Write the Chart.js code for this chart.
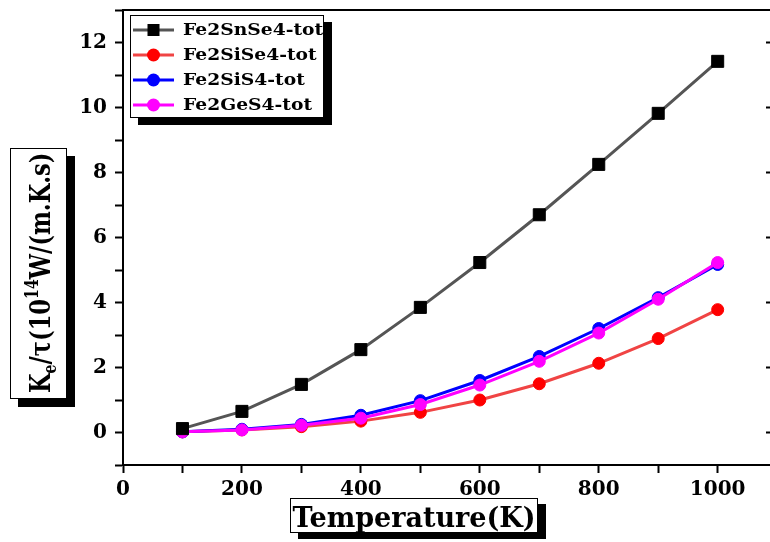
<!DOCTYPE html>
<html>
<head>
<meta charset="utf-8">
<script src="https://cdn.jsdelivr.net/npm/chart.js@4"></script>
<style>
  html, body { margin: 0; padding: 0; background: #fff; }
  #wrap { width: 770px; height: 542px; }
</style>
</head>
<body>
<div id="wrap"><canvas id="chart" width="770" height="542"></canvas></div>
<script>
// temperature (K) and electronic thermal conductivity over tau, 10^14 W/(m.K.s)
const temps = [100, 200, 300, 400, 500, 600, 700, 800, 900, 1000];
const snSe4 = [0.12, 0.65, 1.48, 2.55, 3.85, 5.23, 6.70, 8.25, 9.82, 11.42];
const siSe4 = [0.02, 0.08, 0.18, 0.35, 0.62, 1.00, 1.50, 2.13, 2.89, 3.78];
const siS4 = [0.02, 0.10, 0.25, 0.53, 0.98, 1.60, 2.34, 3.20, 4.15, 5.17];
const geS4 = [0.02, 0.08, 0.22, 0.44, 0.86, 1.46, 2.19, 3.06, 4.10, 5.23];

const seriesNames = ["Fe2SnSe4-tot", "Fe2SiSe4-tot", "Fe2SiS4-tot", "Fe2GeS4-tot"];
const xTitle = "Temperature(K)";

const SERIF = "DejaVu Serif";

const pts = (ys) => temps.map((t, i) => ({ x: t, y: ys[i] }));

// white box with a solid black drop shadow
function shadowBox(ctx, x, y, w, h, dx, dy) {
  ctx.save();
  ctx.fillStyle = "#000";
  ctx.fillRect(x + dx, y + dy, w, h);
  ctx.fillStyle = "#fff";
  ctx.fillRect(x, y, w, h);
  ctx.strokeStyle = "#000";
  ctx.lineWidth = 1;
  ctx.strokeRect(x + 0.5, y + 0.5, w - 1, h - 1);
  ctx.restore();
}

function marker(ctx, style, x, y, color) {
  ctx.fillStyle = color;
  if (style === "rect") {
    ctx.fillRect(x - 6, y - 6, 12, 12);
  } else {
    ctx.beginPath();
    ctx.arc(x, y, 6.5, 0, Math.PI * 2);
    ctx.fill();
  }
}

const decorations = {
  id: "decorations",
  afterDraw(chart) {
    const ctx = chart.ctx;
    const area = chart.chartArea;
    const yScale = chart.scales.y;
    const edge = chart.width + 4;

    // top frame line, bottom axis carried to the edge; the right frame sits
    // just past the canvas, only its inward major ticks show
    ctx.save();
    ctx.strokeStyle = "#000";
    ctx.lineWidth = 2;
    ctx.beginPath();
    ctx.moveTo(area.left, area.top);
    ctx.lineTo(edge, area.top);
    ctx.moveTo(area.right, area.bottom);
    ctx.lineTo(edge, area.bottom);
    for (let v = 0; v <= 12; v += 2) {
      const py = yScale.getPixelForValue(v);
      ctx.moveTo(edge, py);
      ctx.lineTo(edge - 8, py);
    }
    ctx.stroke();
    ctx.restore();

    // legend
    shadowBox(ctx, 130, 15, 194, 103, 8, 7);
    ctx.save();
    ctx.textBaseline = "middle";
    chart.data.datasets.forEach((ds, i) => {
      const cy = 30 + i * 25;
      ctx.strokeStyle = ds.borderColor;
      ctx.lineWidth = 3;
      ctx.beginPath();
      ctx.moveTo(133, cy);
      ctx.lineTo(174, cy);
      ctx.stroke();
      marker(ctx, ds.pointStyle, 153.5, cy, ds.pointBackgroundColor);
      ctx.save();
      ctx.translate(183, cy + 1);
      ctx.scale(1.1, 1);
      ctx.font = "bold 17px '" + SERIF + "'";
      ctx.fillStyle = "#000";
      ctx.fillText(ds.label, 0, 0);
      ctx.restore();
    });
    ctx.restore();

    // x axis title
    shadowBox(ctx, 290, 498, 248, 35, 8, 6);
    ctx.save();
    ctx.font = "bold 27px '" + SERIF + "'";
    ctx.fillStyle = "#000";
    ctx.textAlign = "center";
    ctx.textBaseline = "alphabetic";
    ctx.fillText(xTitle, 414, 527);
    ctx.restore();

    // y axis title, rotated, with subscript and superscript
    shadowBox(ctx, 10, 148, 57, 251, 8, 8);
    ctx.save();
    ctx.translate(50, 393);
    ctx.rotate(-Math.PI / 2);
    ctx.scale(0.94, 1.2);
    ctx.fillStyle = "#000";
    ctx.textBaseline = "alphabetic";
    const big = "bold 24px '" + SERIF + "'";
    const small = "bold 15px '" + SERIF + "'";
    const parts = [
      { t: "K", f: big, dy: 0 },
      { t: "e", f: small, dy: 5 },
      { t: "/\u03C4(10", f: big, dy: 0 },
      { t: "14", f: small, dy: -10 },
      { t: "W/(m.K.s)", f: big, dy: 0 }
    ];
    let px = 0;
    parts.forEach((p) => {
      ctx.font = p.f;
      ctx.fillText(p.t, px, p.dy);
      px += ctx.measureText(p.t).width;
    });
    ctx.restore();
  }
};

const tickFont = { family: SERIF, size: 20, weight: "bold" };

new Chart(document.getElementById("chart"), {
  type: "line",
  data: {
    datasets: [
      {
        label: seriesNames[0],
        data: pts(snSe4),
        borderColor: "#555555",
        pointBackgroundColor: "#000000",
        pointBorderColor: "#000000",
        pointStyle: "rect",
        pointRadius: 8.5,
        order: 0
      },
      {
        label: seriesNames[1],
        data: pts(siSe4),
        borderColor: "#f04444",
        pointBackgroundColor: "#ff0000",
        pointBorderColor: "#ff0000",
        pointStyle: "circle",
        pointRadius: 6,
        order: 3
      },
      {
        label: seriesNames[2],
        data: pts(siS4),
        borderColor: "#0000ff",
        pointBackgroundColor: "#0000ff",
        pointBorderColor: "#0000ff",
        pointStyle: "circle",
        pointRadius: 6,
        order: 2
      },
      {
        label: seriesNames[3],
        data: pts(geS4),
        borderColor: "#ff00ff",
        pointBackgroundColor: "#ff00ff",
        pointBorderColor: "#ff00ff",
        pointStyle: "circle",
        pointRadius: 6,
        order: 1
      }
    ]
  },
  options: {
    responsive: false,
    animation: false,
    devicePixelRatio: 1,
    layout: { padding: { top: 10, right: 0, bottom: 0, left: 0 } },
    elements: {
      line: { borderWidth: 3, tension: 0, fill: false },
      point: { borderWidth: 1 }
    },
    plugins: {
      legend: { display: false },
      tooltip: { enabled: false }
    },
    scales: {
      x: {
        type: "linear",
        min: 0,
        max: 1072,
        afterFit: (scale) => {
          scale.height = 77;
          scale.paddingLeft = 0;
          scale.paddingRight = 0;
        },
        border: { display: true, color: "#000", width: 2 },
        grid: { drawOnChartArea: false, tickLength: 8, tickColor: "#000", tickWidth: 2 },
        ticks: {
          stepSize: 100,
          includeBounds: false,
          autoSkip: false,
          maxRotation: 0,
          padding: 5,
          color: "#000",
          font: tickFont,
          callback: (v) => (v % 200 === 0 ? String(v) : "")
        }
      },
      y: {
        min: -1,
        max: 13,
        afterFit: (scale) => {
          scale.width = 123;
          scale.paddingTop = 0;
          scale.paddingBottom = 0;
        },
        border: { display: true, color: "#000", width: 2 },
        grid: { drawOnChartArea: false, tickLength: 8, tickColor: "#000", tickWidth: 2 },
        ticks: {
          stepSize: 1,
          autoSkip: false,
          padding: 8,
          color: "#000",
          font: tickFont,
          callback: (v) => (v % 2 === 0 && v >= 0 && v <= 12 ? String(v) : "")
        }
      }
    }
  },
  plugins: [decorations]
});
</script>
</body>
</html>
